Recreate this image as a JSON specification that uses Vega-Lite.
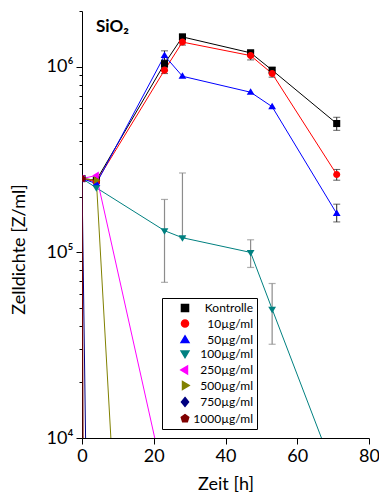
{
  "$schema": "https://vega.github.io/schema/vega-lite/v6.json",
  "width": 287,
  "height": 427,
  "autosize": "none",
  "padding": {"left": 82, "top": 11, "right": 10, "bottom": 62},
  "background": "white",
  "config": {
    "view": {"stroke": null},
    "font": "Lato",
    "axis": {"domainColor": "black", "tickColor": "black", "labelColor": "black", "titleColor": "black", "labelFont": "Lato", "titleFont": "Lato", "grid": false, "labelFontSize": 18, "titleFontSize": 18, "titleFontWeight": "normal", "labelOverlap": false, "labelFlush": false}
  },
  "title": {"text": "SiO₂", "anchor": "start", "frame": "group", "offset": -27, "dx": 14, "dy": 20, "baseline": "alphabetic", "fontSize": 17, "fontWeight": "bold", "font": "Lato", "color": "black"},
  "datasets": {
    "pts": [
      {"s": "Kontrolle", "t": 0, "v": 250000}, {"s": "Kontrolle", "t": 4, "v": 245000}, {"s": "Kontrolle", "t": 23, "v": 1040000}, {"s": "Kontrolle", "t": 28, "v": 1450000}, {"s": "Kontrolle", "t": 47, "v": 1190000}, {"s": "Kontrolle", "t": 53, "v": 960000}, {"s": "Kontrolle", "t": 71, "v": 495000},
      {"s": "10µg/ml", "t": 0, "v": 250000}, {"s": "10µg/ml", "t": 4, "v": 240000}, {"s": "10µg/ml", "t": 23, "v": 960000}, {"s": "10µg/ml", "t": 28, "v": 1360000}, {"s": "10µg/ml", "t": 47, "v": 1150000}, {"s": "10µg/ml", "t": 53, "v": 920000}, {"s": "10µg/ml", "t": 71, "v": 263000},
      {"s": "50µg/ml", "t": 0, "v": 250000}, {"s": "50µg/ml", "t": 4, "v": 235000}, {"s": "50µg/ml", "t": 23, "v": 1150000}, {"s": "50µg/ml", "t": 28, "v": 890000}, {"s": "50µg/ml", "t": 47, "v": 730000}, {"s": "50µg/ml", "t": 53, "v": 610000}, {"s": "50µg/ml", "t": 71, "v": 162000},
      {"s": "100µg/ml", "t": 0, "v": 250000}, {"s": "100µg/ml", "t": 4, "v": 223000}, {"s": "100µg/ml", "t": 23, "v": 131000}, {"s": "100µg/ml", "t": 28, "v": 120000}, {"s": "100µg/ml", "t": 47, "v": 100000}, {"s": "100µg/ml", "t": 53, "v": 49500}, {"s": "100µg/ml", "t": 71, "v": 6100},
      {"s": "250µg/ml", "t": 0, "v": 250000}, {"s": "250µg/ml", "t": 4, "v": 260000}, {"s": "250µg/ml", "t": 23, "v": 5800},
      {"s": "500µg/ml", "t": 0, "v": 250000}, {"s": "500µg/ml", "t": 4, "v": 245000}, {"s": "500µg/ml", "t": 23, "v": 0.074},
      {"s": "750µg/ml", "t": 0, "v": 250000}, {"s": "750µg/ml", "t": 4, "v": 0.63},
      {"s": "1000µg/ml", "t": 0, "v": 250000}, {"s": "1000µg/ml", "t": 4, "v": 0.00000000000005}
    ],
    "err": [
      {"s": "Kontrolle", "t": 23, "lo": 990000, "hi": 1090000}, {"s": "Kontrolle", "t": 28, "lo": 1400000, "hi": 1500000}, {"s": "Kontrolle", "t": 47, "lo": 1150000, "hi": 1230000}, {"s": "Kontrolle", "t": 53, "lo": 930000, "hi": 990000}, {"s": "Kontrolle", "t": 71, "lo": 455000, "hi": 535000},
      {"s": "10µg/ml", "t": 23, "lo": 920000, "hi": 1000000}, {"s": "10µg/ml", "t": 28, "lo": 1310000, "hi": 1410000}, {"s": "10µg/ml", "t": 47, "lo": 1090000, "hi": 1210000}, {"s": "10µg/ml", "t": 53, "lo": 880000, "hi": 960000}, {"s": "10µg/ml", "t": 71, "lo": 245000, "hi": 280000},
      {"s": "50µg/ml", "t": 23, "lo": 1080000, "hi": 1220000}, {"s": "50µg/ml", "t": 71, "lo": 146000, "hi": 182000},
      {"s": "100µg/ml", "t": 23, "lo": 69000, "hi": 193000}, {"s": "100µg/ml", "t": 28, "lo": 120000, "hi": 268000}, {"s": "100µg/ml", "t": 47, "lo": 83000, "hi": 117000}, {"s": "100µg/ml", "t": 53, "lo": 32000, "hi": 68000}
    ]
  },
  "layer": [
    {
      "data": {"name": "err"},
      "transform": [{"filter": "datum.s == '100µg/ml'"}],
      "mark": {"type": "errorbar", "ticks": {"size": 7}, "color": "#8c8c8c", "thickness": 1.2},
      "encoding": {
        "x": {"field": "t", "type": "quantitative", "title": "Zeit [h]", "scale": {"domain": [0, 80], "nice": false}},
        "y": {"field": "lo", "type": "quantitative", "title": "Zelldichte [Z/ml]", "scale": {"type": "log", "domain": [10000, 2000000], "nice": false}},
        "y2": {"field": "hi"}
      }
    },
    {
      "data": {"name": "err"},
      "transform": [{"filter": "datum.s != '100µg/ml'"}],
      "mark": {"type": "errorbar", "ticks": {"size": 7}, "color": "#222222", "thickness": 1},
      "encoding": {
        "x": {"field": "t", "type": "quantitative", "title": "Zeit [h]", "scale": {"domain": [0, 80], "nice": false}},
        "y": {"field": "lo", "type": "quantitative", "title": "Zelldichte [Z/ml]", "scale": {"type": "log", "domain": [10000, 2000000], "nice": false}},
        "y2": {"field": "hi"}
      }
    },
    {
      "data": {"name": "pts"},
      "mark": {"type": "line", "strokeWidth": 1, "clip": true},
      "encoding": {
        "x": {"field": "t", "type": "quantitative", "title": "Zeit [h]", "scale": {"domain": [0, 80], "nice": false},
          "axis": {"values": [0, 5, 10, 15, 20, 25, 30, 35, 40, 45, 50, 55, 60, 65, 70, 75, 80], "labelExpr": "datum.value % 10 == 0 ? datum.label : ''", "tickSize": {"condition": {"test": "datum.value % 10 == 0", "value": 6}, "value": 3}, "labelPadding": 3, "titlePadding": 10}},
        "y": {"field": "v", "type": "quantitative", "title": "Zelldichte [Z/ml]", "scale": {"type": "log", "domain": [10000, 2000000], "nice": false},
          "axis": {"values": [10000, 20000, 30000, 40000, 50000, 60000, 70000, 80000, 90000, 100000, 200000, 300000, 400000, 500000, 600000, 700000, 800000, 900000, 1000000, 2000000], "labelExpr": "datum.value == 10000 ? '10⁴' : datum.value == 100000 ? '10⁵' : datum.value == 1000000 ? '10⁶' : ''", "tickSize": {"condition": {"test": "datum.value == 10000 || datum.value == 100000 || datum.value == 1000000", "value": 6}, "value": 3}, "labelPadding": 3, "titlePadding": 18, "titleY": 238}},
        "color": {"field": "s", "type": "nominal", "title": null,
          "scale": {"domain": ["Kontrolle", "10µg/ml", "50µg/ml", "100µg/ml", "250µg/ml", "500µg/ml", "750µg/ml", "1000µg/ml"], "range": ["#000000", "#ff0000", "#0000ff", "#008080", "#ff00ff", "#808000", "#000080", "#800000"]}},
        "detail": {"field": "s"}
      }
    },
    {
      "data": {"name": "pts"},
      "mark": {"type": "point", "filled": true, "size": 50, "opacity": 1, "clip": true},
      "encoding": {
        "x": {"field": "t", "type": "quantitative", "title": "Zeit [h]", "scale": {"domain": [0, 80], "nice": false}},
        "y": {"field": "v", "type": "quantitative", "title": "Zelldichte [Z/ml]", "scale": {"type": "log", "domain": [10000, 2000000], "nice": false}},
        "color": {"field": "s", "type": "nominal", "title": null,
          "scale": {"domain": ["Kontrolle", "10µg/ml", "50µg/ml", "100µg/ml", "250µg/ml", "500µg/ml", "750µg/ml", "1000µg/ml"], "range": ["#000000", "#ff0000", "#0000ff", "#008080", "#ff00ff", "#808000", "#000080", "#800000"]},
          "legend": {"orient": "none", "legendX": 80, "legendY": 287, "title": null, "strokeColor": "black", "fillColor": "white", "padding": 4, "rowPadding": 1.5, "symbolSize": 50, "symbolOffset": 13, "labelFontSize": 12, "labelFont": "Lato", "labelColor": "black", "labelAlign": "right", "labelOffset": 62, "labelLimit": 200}},
        "shape": {"field": "s", "type": "nominal", "title": null,
          "scale": {"domain": ["Kontrolle", "10µg/ml", "50µg/ml", "100µg/ml", "250µg/ml", "500µg/ml", "750µg/ml", "1000µg/ml"], "range": ["M-1,-1H1V1H-1Z", "M1,0A1,1,0,1,1,-1,0A1,1,0,1,1,1,0Z", "M0,-1.15L1.1,0.7L-1.1,0.7Z", "M0,1.15L1.1,-0.7L-1.1,-0.7Z", "M-1.15,0L0.7,-1.1L0.7,1.1Z", "M1.15,0L-0.7,-1.1L-0.7,1.1Z", "M0,-1.25L1,0L0,1.25L-1,0Z", "M0,-1.1L1.05,-0.34L0.65,0.9L-0.65,0.9L-1.05,-0.34Z"]},
          "legend": {"orient": "none", "legendX": 80, "legendY": 287, "title": null, "strokeColor": "black", "fillColor": "white", "padding": 4, "rowPadding": 1.5, "symbolSize": 50, "symbolOffset": 13, "labelFontSize": 12, "labelFont": "Lato", "labelColor": "black", "labelAlign": "right", "labelOffset": 62, "labelLimit": 200}}
      }
    }
  ]
}
